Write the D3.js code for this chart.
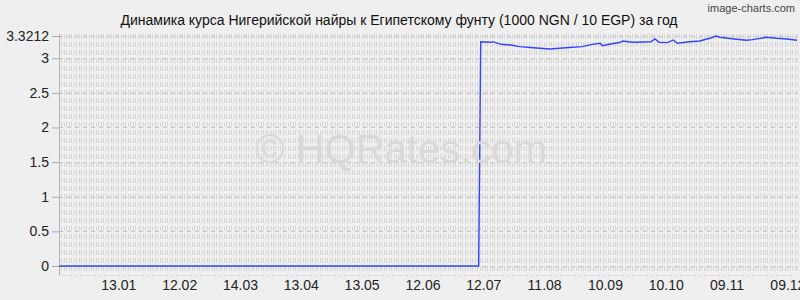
<!DOCTYPE html>
<html>
<head>
<meta charset="utf-8">
<script src="https://cdn.jsdelivr.net/npm/d3@7"></script>
<style>
  body { margin: 0; background: #efefef; }
  svg { display: block; font-family: "Liberation Sans", Arial, sans-serif; }
</style>
</head>
<body>
<div class="chart"></div>
<script>
var svgWidth = 800;
var svgHeight = 300;

var title = "Динамика курса Нигерийской найры к Египетскому фунту (1000 NGN / 10 EGP) за год";

// day index of each reading (0 .. 364) and the rate
var days = [0, 207, 208, 213, 214, 218, 223, 227, 234, 242, 250, 258, 263, 267, 268, 272,
  277, 278, 283, 292, 294, 296, 300, 303, 305, 311, 316, 321, 324, 326, 333, 339, 342,
  349, 354, 359, 364];
var rates = [0, 0, 3.239, 3.230, 3.239, 3.201, 3.191, 3.167, 3.152, 3.134, 3.152, 3.167,
  3.201, 3.216, 3.181, 3.206, 3.230, 3.249, 3.230, 3.239, 3.278, 3.230, 3.225, 3.264,
  3.216, 3.239, 3.249, 3.288, 3.3212, 3.303, 3.278, 3.259, 3.268, 3.303, 3.288, 3.278,
  3.259];

// x labels sit every 30 days
var xTickDays = [30, 60, 90, 120, 150, 180, 210, 240, 270, 300, 330, 360];
var xTickLabels = ["13.01", "12.02", "14.03", "13.04", "13.05", "12.06", "12.07",
  "11.08", "10.09", "10.10", "09.11", "09.12"];
var yTicks = [0, 0.5, 1, 1.5, 2, 2.5, 3, 3.3212];

var margin = { top: 34, right: 3, bottom: 25, left: 59 };
var width = svgWidth - margin.left - margin.right;
var height = svgHeight - margin.top - margin.bottom;

var svg = d3.select(".chart")
  .append("svg")
  .attr("width", svgWidth)
  .attr("height", svgHeight);

svg.append("rect")
  .attr("width", svgWidth)
  .attr("height", svgHeight)
  .attr("fill", "#efefef");

var chartGroup = svg.append("g")
  .attr("transform", `translate(${margin.left}, ${margin.top})`);

// Scales
var x = d3.scaleLinear().domain([0, 364]).range([0, width]);
var y = d3.scaleLinear().domain([-0.13, 3.35]).range([height, 0]);

// Grid - fine vertical dashes
var vStep = d3.range(0, 301);
chartGroup.append("g")
  .selectAll("line")
  .data(vStep)
  .enter()
  .append("line")
  .attr("x1", d => Math.round(d * width / 300) + 0.5)
  .attr("x2", d => Math.round(d * width / 300) + 0.5)
  .attr("y1", 0)
  .attr("y2", height - 3)
  .attr("stroke", "#d6d6d6")
  .attr("stroke-width", 1)
  .attr("stroke-dasharray", "5,3");

// Grid - horizontal dashed
chartGroup.append("g")
  .selectAll("line")
  .data(yTicks)
  .enter()
  .append("line")
  .attr("x1", 0)
  .attr("x2", width)
  .attr("y1", d => Math.round(y(d)) + 0.5)
  .attr("y2", d => Math.round(y(d)) + 0.5)
  .attr("stroke", "#c4c4c4")
  .attr("stroke-dasharray", "4,4");

// bottom dotted line
chartGroup.append("line")
  .attr("x1", 0)
  .attr("x2", width)
  .attr("y1", height + 0.5)
  .attr("y2", height + 0.5)
  .attr("stroke", "#c4c4c4")
  .attr("stroke-dasharray", "1,2");

// Watermark
svg.append("text")
  .attr("x", 401)
  .attr("y", 163)
  .attr("text-anchor", "middle")
  .style("font-size", "40px")
  .attr("fill", "#d9d9d9")
  .text("© HQRates.com");

// Axes
var leftAxis = d3.axisLeft(y)
  .tickValues(yTicks)
  .tickFormat(d => String(d))
  .tickSize(7)
  .tickPadding(3);

var yAxisG = chartGroup.append("g")
  .call(leftAxis);
yAxisG.select(".domain").remove();
yAxisG.selectAll(".tick line").attr("stroke", "#aaaaaa");
yAxisG.selectAll("text")
  .style("font-size", "14px")
  .style("font-family", "Liberation Sans, Arial, sans-serif")
  .attr("fill", "#222");

chartGroup.append("line")
  .attr("x1", 0.5)
  .attr("x2", 0.5)
  .attr("y1", 0)
  .attr("y2", height)
  .attr("stroke", "#b4b4b4");

var bottomAxis = d3.axisBottom(x)
  .tickValues(xTickDays)
  .tickFormat((d, i) => xTickLabels[i])
  .tickSize(0)
  .tickPadding(5);

var xAxisG = chartGroup.append("g")
  .attr("transform", `translate(0, ${height})`)
  .call(bottomAxis);
xAxisG.select(".domain").remove();
xAxisG.selectAll("text")
  .attr("dx", "-1.5")
  .style("font-size", "14px")
  .style("font-family", "Liberation Sans, Arial, sans-serif")
  .attr("fill", "#222");

// Line
var line = d3.line()
  .x((d, i) => x(days[i]))
  .y(d => y(d));

chartGroup.append("path")
  .datum(rates)
  .attr("d", line)
  .attr("fill", "none")
  .attr("stroke", "#3344ff")
  .attr("stroke-width", 1.4);

// Title
svg.append("text")
  .attr("x", 399)
  .attr("y", 25)
  .attr("text-anchor", "middle")
  .style("font-size", "14px")
  .attr("fill", "#111")
  .text(title);

svg.append("text")
  .attr("x", 795)
  .attr("y", 12)
  .attr("text-anchor", "end")
  .style("font-family", "Liberation Sans Narrow, sans-serif")
  .style("font-size", "11px")
  .attr("fill", "#444")
  .text("image-charts.com");
</script>
</body>
</html>
